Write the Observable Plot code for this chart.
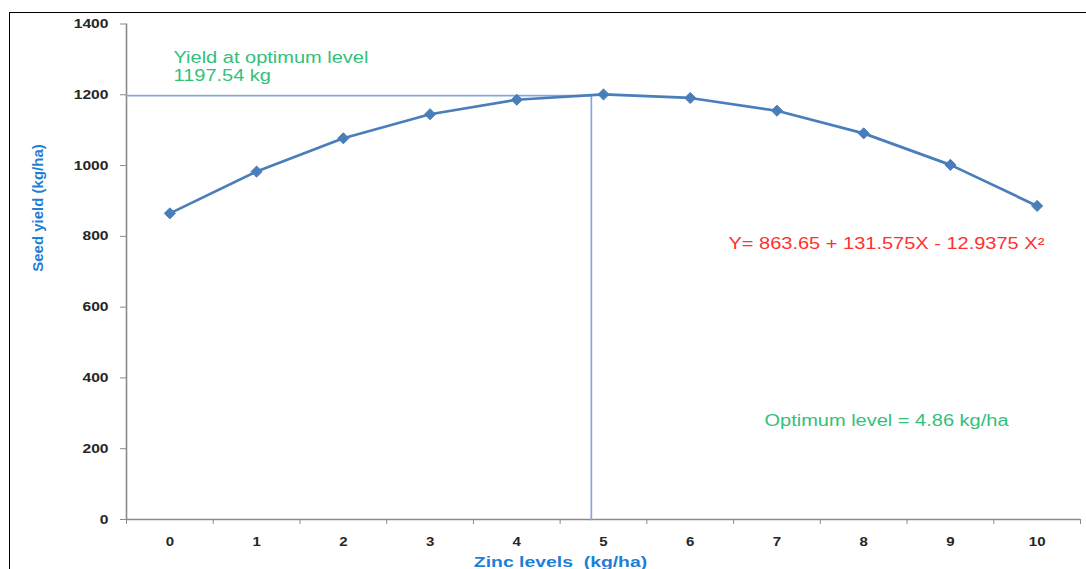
<!DOCTYPE html>
<html>
<head>
<meta charset="utf-8">
<script src="https://cdn.jsdelivr.net/npm/d3@7"></script>
<script src="https://cdn.jsdelivr.net/npm/@observablehq/plot@0.6"></script>
<style>
  html, body { margin: 0; padding: 0; background: #fff; }
  #wrap { position: relative; width: 1086px; height: 569px; overflow: hidden; }
  #chart svg { position: absolute; left: 0; top: 0; display: block; }
  #border { position: absolute; left: 9px; top: 12px; width: 1300px; height: 800px;
            border: 1px solid #000; box-sizing: border-box; pointer-events: none; }
</style>
</head>
<body>
<div id="wrap"><div id="chart"></div><div id="border"></div></div>
<script>
// Zinc application levels (kg/ha) and measured seed yield (kg/ha)
const zincLevels = [0, 1, 2, 3, 4, 5, 6, 7, 8, 9, 10];
const seedYield = [865, 983, 1077, 1145, 1186, 1201, 1191, 1155, 1091, 1002, 886];
const yTicks = [0, 200, 400, 600, 800, 1000, 1200, 1400];

// Optimum from the fitted quadratic
const optimumLevel = 4.86;
const optimumYield = 1197.54;
const equationText = "Y= 863.65 + 131.575X - 12.9375 X²";

const xTitle = "Zinc levels  (kg/ha)";
const yTitle = "Seed yield (kg/ha)";

const blue = "#4a7ebb";
const refBlue = "#86a8d8";
const axisGrey = "#8a8a8a";
const labelInk = "#262626";
const titleBlue = "#1f7fd6";
const green = "#33c07a";
const red = "#ff3030";

const points = zincLevels.map((x, i) => ({x, y: seedYield[i]}));
// category separators for the x-axis tick marks
const edges = zincLevels.map(d => d - 0.5).concat([zincLevels[zincLevels.length - 1] + 0.5]);
const xDomain = [edges[0], edges[edges.length - 1]];
// guide: across from the y-axis to the optimum, then down to the x-axis
const guide = [
  {x: xDomain[0], y: optimumYield},
  {x: optimumLevel, y: optimumYield},
  {x: optimumLevel, y: 0}
];

const font = "'Liberation Sans', Arial, sans-serif";

const plot = Plot.plot({
  width: 1086,
  height: 569,
  marginLeft: 126,
  marginRight: 6,
  marginTop: 23.5,
  marginBottom: 50,
  style: {fontFamily: font, background: "transparent", overflow: "visible"},
  x: {domain: xDomain, axis: null},
  y: {domain: [0, 1400], axis: null},
  marks: [
    Plot.axisY(yTicks, {
      tickSize: 6, tickPadding: 12, stroke: axisGrey, fill: labelInk,
      tickFormat: d => String(d),
      fontWeight: "bold", fontSize: 12.5, label: null
    }),
    Plot.axisX(edges, {tickSize: 5, tickFormat: () => "", stroke: axisGrey, label: null}),
    Plot.axisX(zincLevels, {
      tickSize: 0, tickPadding: 18, fill: labelInk,
      tickFormat: d => String(d),
      fontWeight: "bold", fontSize: 12, label: null
    }),
    Plot.ruleX([xDomain[0]], {stroke: axisGrey, strokeWidth: 1.6}),
    Plot.ruleY([0], {stroke: axisGrey, strokeWidth: 1.6}),
    Plot.line(guide, {x: "x", y: "y", stroke: refBlue, strokeWidth: 1.7}),
    Plot.line(points, {x: "x", y: "y", stroke: blue, strokeWidth: 2.7}),
    Plot.dot(points, {x: "x", y: "y", symbol: "diamond2", r: 5, fill: blue, stroke: blue, strokeWidth: 1}),
    Plot.text([`Yield at optimum level\n${optimumYield} kg`], {
      text: d => d, frameAnchor: "top-left", dx: 47, dy: 56.5,
      textAnchor: "start", lineAnchor: "bottom", lineHeight: 1.08,
      fill: green, fontSize: 16
    }),
    Plot.text([equationText], {
      text: d => d, frameAnchor: "top-left", dx: 602, dy: 224.5,
      textAnchor: "start", lineAnchor: "bottom", fill: red, fontSize: 16
    }),
    Plot.text([`Optimum level = ${optimumLevel} kg/ha`], {
      text: d => d, frameAnchor: "top-left", dx: 638, dy: 401.5,
      textAnchor: "start", lineAnchor: "bottom", fill: green, fontSize: 16
    }),
    Plot.text([xTitle], {
      text: d => d, frameAnchor: "bottom", dx: -43, dy: 47,
      textAnchor: "middle", lineAnchor: "bottom", fill: titleBlue,
      fontSize: 15.5, fontWeight: "bold"
    }),
    Plot.text([yTitle], {
      text: d => d, frameAnchor: "left", dx: -88, dy: -63.75, rotate: -90,
      textAnchor: "middle", lineAnchor: "middle", fill: titleBlue,
      fontSize: 15, fontWeight: "bold"
    })
  ]
});

document.getElementById("chart").append(plot);

// The typography of this chart is set wide: stretch horizontal labels.
const stretch = 1.25;
d3.select(plot).selectAll("text").each(function () {
  if (/rotate/.test(this.getAttribute("transform") || "")) return;
  const spans = this.querySelectorAll("tspan");
  const targets = spans.length ? Array.from(spans) : [this];
  for (const el of targets) {
    const w = el.getComputedTextLength();
    if (w > 0) {
      el.setAttribute("textLength", (w * stretch).toFixed(2));
      el.setAttribute("lengthAdjust", "spacingAndGlyphs");
    }
  }
});
</script>
</body>
</html>
